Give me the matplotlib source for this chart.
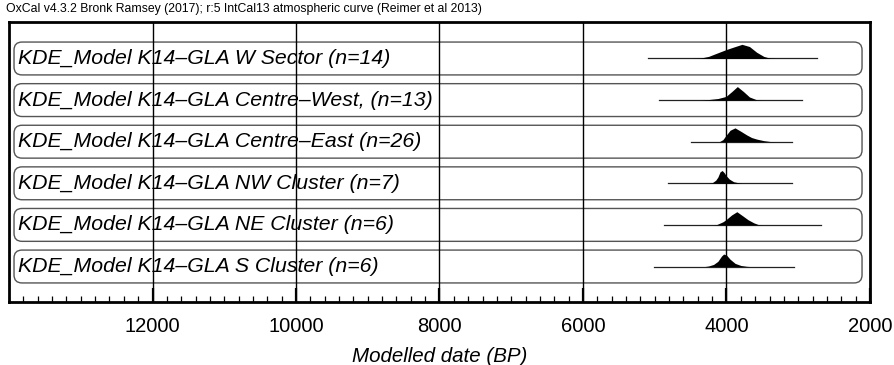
import matplotlib
matplotlib.use("Agg")
import matplotlib.pyplot as plt
import numpy as np
from matplotlib.patches import FancyBboxPatch
from matplotlib.ticker import MultipleLocator

plt.rcParams['font.family'] = ['Liberation Sans', 'DejaVu Sans']

labels = [
    "KDE_Model K14\u2013GLA W Sector (n=14)",
    "KDE_Model K14\u2013GLA Centre\u2013West, (n=13)",
    "KDE_Model K14\u2013GLA Centre\u2013East (n=26)",
    "KDE_Model K14\u2013GLA NW Cluster (n=7)",
    "KDE_Model K14\u2013GLA NE Cluster (n=6)",
    "KDE_Model K14\u2013GLA S Cluster (n=6)",
]

# modelled date (BP) and relative probability
w_sector_bp = [5094, 4500, 4370, 4250, 4120, 4007, 3900, 3784, 3680, 3580, 3480, 3394, 3300, 2739]
w_sector_p = [0, 0, 0.3, 2, 5.5, 8.5, 11, 13.6, 11.5, 6, 2, 0.3, 0, 0]

centre_west_bp = [4937, 4350, 4250, 4120, 4007, 3930, 3849, 3760, 3680, 3580, 3500, 2944]
centre_west_p = [0, 0, 0.5, 1.5, 3.5, 8, 13, 8, 3, 0.3, 0, 0]

centre_east_bp = [4499, 4100, 4050, 4007, 3950, 3882, 3800, 3718, 3650, 3579, 3480, 3394, 3300, 3090]
centre_east_p = [0, 0, 2, 6, 11, 13.3, 10, 6.5, 4, 2.5, 1, 0.2, 0, 0]

nw_cluster_bp = [4811, 4250, 4200, 4150, 4120, 4090, 4060, 4030, 4007, 3960, 3900, 3820, 3780, 3081]
nw_cluster_p = [0, 0, 0.5, 3, 6, 11, 12.3, 10, 7.5, 4, 1.5, 0.3, 0, 0]

ne_cluster_bp = [4867, 4200, 4137, 4050, 4007, 3930, 3856, 3780, 3700, 3620, 3556, 3500, 2683]
ne_cluster_p = [0, 0, 0.3, 3, 5, 9.5, 12.7, 9, 5, 2, 0.3, 0, 0]

s_cluster_bp = [5010, 4300, 4250, 4180, 4120, 4070, 4040, 4000, 3950, 3880, 3800, 3720, 3680, 3059]
s_cluster_p = [0, 0, 0.5, 2, 5, 10, 12, 11, 7, 3, 1, 0.2, 0, 0]

dists = [
    (w_sector_bp, w_sector_p),
    (centre_west_bp, centre_west_p),
    (centre_east_bp, centre_east_p),
    (nw_cluster_bp, nw_cluster_p),
    (ne_cluster_bp, ne_cluster_p),
    (s_cluster_bp, s_cluster_p),
]

grid_years = [12000, 10000, 8000, 6000, 4000]

fig = plt.figure(figsize=(8.94, 3.65), dpi=100)
ax = fig.add_axes([9 / 894, 1 - 302 / 365, 861 / 894, 280 / 365])
ax.set_xlim(14000, 2000)
ax.set_ylim(6.73, 0)

scale = 1 / 40.0
for i, (bp, p) in enumerate(dists):
    yc = i + 0.877
    bp = np.array(bp, dtype=float)
    p = np.array(p, dtype=float) * scale
    ax.plot([bp[0], bp[-1]], [yc, yc], color='#222222', lw=0.9, zorder=3)
    ax.fill_between(bp, yc, yc - p, color='black', lw=0, zorder=4)
    ax.text(13880, yc, labels[i], fontsize=15.3, style='italic',
            va='center', ha='left', zorder=5)

# rounded boxes, drawn in pixel space so the corners stay circular
fig.canvas.draw()
for i in range(len(labels)):
    yc = i + 0.877
    (x0, y0) = ax.transData.transform((13930, yc + 0.395))
    (x1, y1) = ax.transData.transform((2111, yc - 0.395))
    box = FancyBboxPatch((x0 + 8, y0 + 8), (x1 - x0) - 16, (y1 - y0) - 16,
                         boxstyle="round,pad=8", transform=None,
                         fc='none', ec='#555555', lw=1.0, zorder=2)
    ax.add_artist(box)

for g in grid_years:
    ax.axvline(g, color='black', lw=1.0, zorder=6)

ax.xaxis.set_major_locator(MultipleLocator(2000))
ax.xaxis.set_minor_locator(MultipleLocator(200))
ax.tick_params(axis='x', which='major', direction='in', length=10, width=1.6,
               labelsize=14.5, pad=11)
ax.tick_params(axis='x', which='minor', direction='in', length=4.5, width=0.9)
ax.set_xticks([12000, 10000, 8000, 6000, 4000, 2000])
ax.set_yticks([])
for s in ax.spines.values():
    s.set_linewidth(2)
ax.set_xlabel("Modelled date (BP)", fontsize=14.8, style='italic', labelpad=8)

fig.text(6 / 894, 1 - 9 / 365,
         "OxCal v4.3.2 Bronk Ramsey (2017); r:5 IntCal13 atmospheric curve (Reimer et al 2013)",
         fontsize=8.8, va='center', ha='left')

fig.savefig("out.png", dpi=100)
